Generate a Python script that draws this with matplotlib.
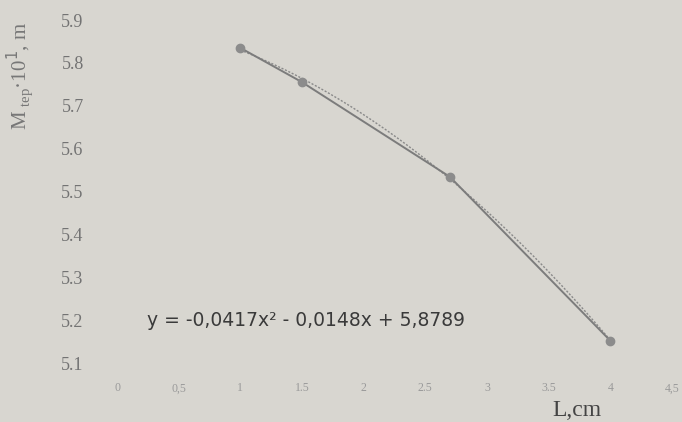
import numpy as np
import matplotlib.pyplot as plt

# data
L = [1.0, 1.5, 2.7, 4.0]
M = [5.835, 5.755, 5.534, 5.152]
x_ticks = [0, 0.5, 1, 1.5, 2, 2.5, 3, 3.5, 4, 4.5]
x_labels = ["0", "0,5", "1", "1.5", "2", "2.5", "3", "3.5", "4", "4,5"]
y_ticks = [5.1, 5.2, 5.3, 5.4, 5.5, 5.6, 5.7, 5.8, 5.9]
y_labels = ["5.1", "5.2", "5.3", "5.4", "5.5", "5.6", "5.7", "5.8", "5.9"]
equation = "y = -0,0417x² - 0,0148x + 5,8789"

paper = "#d8d6d0"
fig = plt.figure(figsize=(6.82, 4.22), dpi=100, facecolor=paper)
ax = fig.add_axes([0.1716, 0.1398, 0.8137, 0.8128], facecolor=paper)

# polynomial trendline (order 2), like Excel does it
coef = np.polyfit(L, M, 2)
xs = np.linspace(min(L), max(L), 200)
ax.plot(xs, np.polyval(coef, xs), color="#8a8a8a", lw=1.0, ls=(0, (1.5, 1.2)))
ax.plot(L, M, color="#7c7c7c", lw=1.4, marker="o", ms=6,
        mfc="#8c8c8c", mec="#8c8c8c")

ax.set_xlim(0, 4.5)
ax.set_ylim(5.1, 5.9)
ax.set_xticks(x_ticks)
ax.set_xticklabels(x_labels, family="Liberation Serif", fontsize=8.5, color="#9a9a9a")
ax.set_yticks(y_ticks)
ax.set_yticklabels(y_labels, family="Liberation Serif", fontsize=13, color="#737373")
ax.tick_params(axis="both", length=0)
ax.tick_params(axis="y", pad=24)
ax.tick_params(axis="x", pad=14)
for s in ax.spines.values():
    s.set_visible(False)

ax.text(0.24, 5.2, equation, fontsize=13.5, color="#3a3a3a", va="center",
        family="DejaVu Sans")

fig.text(0.846, 1 - 410 / 422, "L,cm", family="Liberation Serif", fontsize=17,
         color="#444444", ha="center", va="center")
fig.text(0.03, 1 - 76 / 422, r"M$_{\ \mathregular{tep}}$·10$^{1}$, m",
         family="Liberation Serif", fontsize=15, color="#777777",
         rotation=90, ha="center", va="center")

fig.savefig("out.png", dpi=100, facecolor=paper)
